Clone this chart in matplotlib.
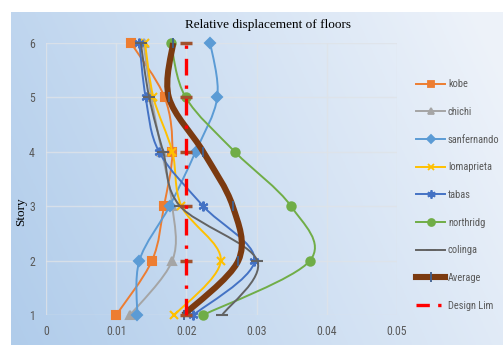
import numpy as np
import matplotlib
matplotlib.use('Agg')
import matplotlib.pyplot as plt
from matplotlib import font_manager
from matplotlib.path import Path
from matplotlib.patches import PathPatch
from matplotlib.lines import Line2D

# story levels and drift values
stories = [1, 2, 3, 4, 5, 6]
kobe = [0.0100, 0.0151, 0.0168, 0.0180, 0.0169, 0.0121]
chichi = [0.0120, 0.0180, 0.0180, 0.0165, 0.0150, 0.0139]
sanfernando = [0.0130, 0.0133, 0.0176, 0.0213, 0.0244, 0.0234]
lomaprieta = [0.0183, 0.0249, 0.0193, 0.0180, 0.0153, 0.0141]
tabas = [0.0210, 0.0297, 0.0224, 0.0161, 0.0142, 0.0133]
northridg = [0.0224, 0.0376, 0.0349, 0.0269, 0.0199, 0.0178]
colinga = [0.0251, 0.0301, 0.0191, 0.0167, 0.0147, 0.0135]
average = [0.0196, 0.0274, 0.0266, 0.0224, 0.0175, 0.0181]
design_lim = [0.02, 0.02, 0.02, 0.02, 0.02, 0.02]

x_ticks = [0, 0.01, 0.02, 0.03, 0.04, 0.05]
x_labels = ['0', '0.01', '0.02', '0.03', '0.04', '0.05']

# pick a condensed face if one is around
names = {f.name for f in font_manager.fontManager.ttflist}
narrow = 'Liberation Sans'
for cand in ['Liberation Sans Narrow', 'DejaVu Sans Condensed', 'Roboto Condensed']:
    if cand in names:
        narrow = cand
        break
narrow_stretch = 'normal' if narrow != 'Liberation Sans' else 'condensed'
tick_col = '#595959'

fig = plt.figure(figsize=(5.03, 3.45), dpi=100, facecolor='white')

# gradient chart background (excel style)
bg = fig.add_axes([11/503, 0, 1 - 11/503, 1 - 12/345])
gx, gy = np.meshgrid(np.linspace(0, 1, 200), np.linspace(0, 1, 140))
t = np.clip(0.8*gx + 0.25*(1-gy), 0, 1)
c0 = np.array([0.69, 0.80, 0.92])
c1 = np.array([0.93, 0.95, 0.98])
img = c0[None, None, :]*(1-t[..., None]) + c1[None, None, :]*t[..., None]
bg.imshow(img, aspect='auto', extent=[0, 1, 0, 1], origin='upper')
bg.axis('off')

ax = fig.add_axes([46/503, 1 - 315/345, (397-46)/503, (315-43)/345])
ax.patch.set_alpha(0)
ax.set_xlim(0, 0.05)
ax.set_ylim(1, 6)
for s in ax.spines.values():
    s.set_visible(False)
ax.set_xticks(x_ticks)
ax.set_xticklabels(x_labels)
ax.set_yticks(stories)
ax.tick_params(axis='x', length=0, colors=tick_col, labelsize=8.5, pad=7)
ax.tick_params(axis='y', length=0, colors=tick_col, labelsize=8.5, pad=8)
for lab in ax.get_xticklabels() + ax.get_yticklabels():
    lab.set_family(narrow)
ax.grid(True, color='#dfe3e8', linewidth=1, alpha=0.8)
ax.set_axisbelow(True)


def smooth_path(xs, ys):
    # excel-like smoothed line using cubic bezier segments
    pts = np.column_stack([xs, ys]).astype(float)
    n = len(pts)
    verts = [pts[0]]
    codes = [Path.MOVETO]
    for i in range(n - 1):
        p0 = pts[i - 1] if i > 0 else pts[i]
        p1 = pts[i]
        p2 = pts[i + 1]
        p3 = pts[i + 2] if i + 2 < n else pts[i + 1]
        verts += [p1 + (p2 - p0)/6, p2 - (p3 - p1)/6, p2]
        codes += [Path.CURVE4]*3
    return Path(verts, codes)


series = [
    ('kobe', kobe, '#ED7D31', 's', 6, '#ED7D31'),
    ('chichi', chichi, '#A5A5A5', '^', 6, '#A5A5A5'),
    ('sanfernando', sanfernando, '#5B9BD5', 'D', 5, '#5B9BD5'),
    ('lomaprieta', lomaprieta, '#FFC000', 'x', 6, '#FFC000'),
    ('tabas', tabas, '#4472C4', (6, 2, 0), 7, '#4472C4'),
    ('northridg', northridg, '#70AD47', 'o', 6, '#70AD47'),
    ('colinga', colinga, '#636363', '_', 8, '#636363'),
]

handles = []
z = 3
for name, vals, col, mk, ms, mcol in series:
    ax.add_patch(PathPatch(smooth_path(vals, stories), facecolor='none',
                           edgecolor=col, lw=1.4, zorder=z, clip_on=False))
    ax.plot(vals, stories, linestyle='none', marker=mk, ms=ms, color=mcol,
            mew=1.5, zorder=z + 0.5, clip_on=False)
    handles.append(Line2D([], [], color=col, lw=1.4, marker=mk, ms=ms-1, mew=1.3, label=name))
    z += 1

ax.add_patch(PathPatch(smooth_path(average, stories), facecolor='none',
                       edgecolor='#7B3A10', lw=4.4, zorder=z, clip_on=False))
ax.plot(average, stories, linestyle='none', marker='|', ms=7, mew=1.3,
        color='#3F5F8F', zorder=z + 0.5, clip_on=False)
handles.append(Line2D([], [], color='#7B3A10', lw=4.4, marker='|', ms=7, mew=1.3,
                      mec='#3F5F8F', label='Average'))
z += 1

ax.plot(design_lim, stories, linestyle='none', marker='_', ms=8, mew=2.5,
        color='#A0522D', zorder=z, clip_on=False)
ax.plot(design_lim, stories, color='#FF0000', lw=2.4, dashes=(5, 3, 1, 3),
        zorder=z + 0.5, clip_on=False)
handles.append(Line2D([], [], color='#FF0000', lw=2.4, dashes=(4, 2.5, 1, 2.5),
                      label='Design Lim'))

leg = fig.legend(handles=handles, loc='upper left', bbox_to_anchor=(412/503, 1 - 75/345),
                 frameon=False, prop={'family': narrow, 'size': 7.5, 'stretch': narrow_stretch},
                 labelspacing=1.7, handlelength=2.8, handletextpad=0.25,
                 borderaxespad=0)
for txt in leg.get_texts():
    txt.set_color(tick_col)

fig.text(268/503, 1 - 25/345, 'Relative displacement of floors', ha='center', va='center',
         family='Liberation Serif', fontsize=9.5)
fig.text(21/503, 1 - 212/345, 'Story', ha='center', va='center', rotation=90,
         family='Liberation Serif', fontsize=9.5)

fig.savefig('out.png', dpi=100)
